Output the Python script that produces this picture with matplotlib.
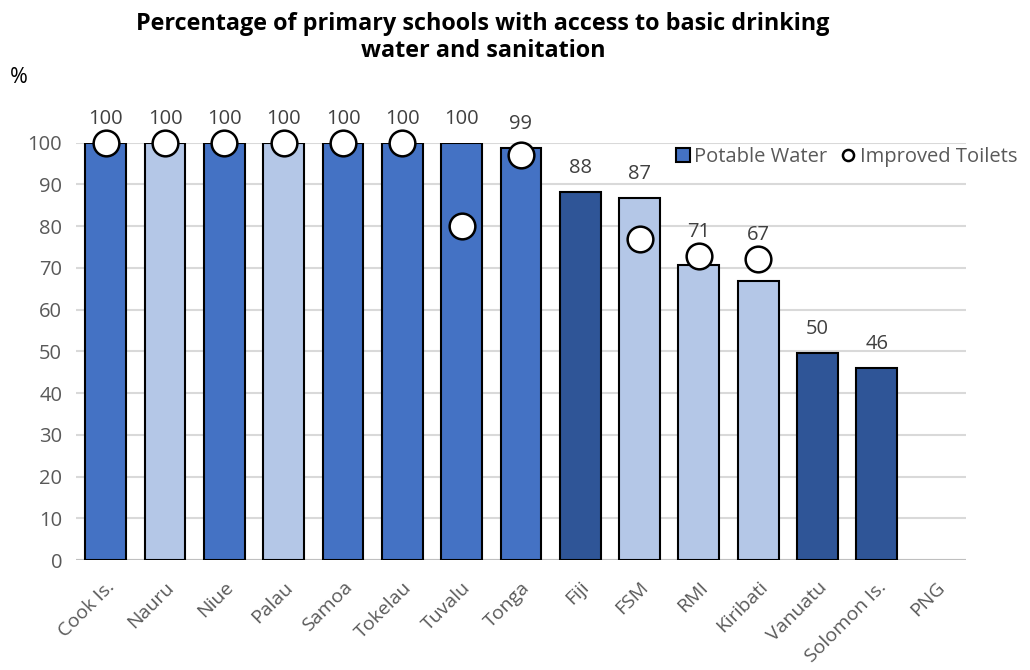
import matplotlib.pyplot as plt
from matplotlib.lines import Line2D
from matplotlib.patches import Patch

plt.rcParams['font.family'] = ['Open Sans', 'DejaVu Sans']

countries = ['Cook Is.', 'Nauru', 'Niue', 'Palau', 'Samoa', 'Tokelau', 'Tuvalu',
             'Tonga', 'Fiji', 'FSM', 'RMI', 'Kiribati', 'Vanuatu', 'Solomon Is.', 'PNG']
water = [100, 100, 100, 100, 100, 100, 100, 98.8, 88.2, 86.8, 70.7, 66.9, 49.6, 46.1, None]
toilets = [100, 100, 100, 100, 100, 100, 80, 97.1, None, 77.0, 72.9, 72.2, None, None, None]
shade = ['mid', 'light', 'mid', 'light', 'mid', 'mid', 'mid',
         'mid', 'dark', 'light', 'light', 'light', 'dark', 'dark', 'dark']

palette = {'mid': '#4472C4', 'light': '#B4C7E7', 'dark': '#2F5597'}
grey = '#595959'

fig = plt.figure(figsize=(10.3, 6.7), dpi=100)
ax = fig.add_axes([0.0738, 0.164, 0.864, 0.623])

x = list(range(len(countries)))
bx = [i for i in x if water[i] is not None]
ax.bar(bx, [water[i] for i in bx], width=0.69,
       color=[palette[shade[i]] for i in bx], edgecolor='black', linewidth=1.5, zorder=2)

tx = [i for i in x if toilets[i] is not None]
ax.plot(tx, [toilets[i] for i in tx], linestyle='none', marker='o', markersize=18.5,
        markerfacecolor='white', markeredgecolor='black', markeredgewidth=1.8,
        zorder=3, clip_on=False)

# value labels sit above whichever mark is higher
for i in bx:
    top = max(water[i], toilets[i] or 0)
    ax.annotate(f'{water[i]:.0f}', (i, top), xytext=(0, 17), textcoords='offset points',
                ha='center', va='center', fontsize=14.5, color='#404040', zorder=4)

ax.set_xlim(-0.5, len(countries) - 0.5)
ax.set_ylim(0, 100)
ax.set_yticks(range(0, 101, 10))
ax.yaxis.grid(True, color='#D9D9D9', linewidth=1.5, zorder=0)
ax.set_axisbelow(True)
for s in ax.spines.values():
    s.set_visible(False)
ax.axhline(0, color='#BFBFBF', linewidth=1.5, zorder=1)

ax.set_xticks(x)
ax.set_xticklabels(countries, rotation=45, ha='right', rotation_mode='anchor',
                   fontsize=14, color=grey)
ax.tick_params(axis='x', length=0, pad=13)
ax.tick_params(axis='y', length=0, pad=10, labelsize=14.5, labelcolor=grey)

fig.text(0.469, 0.944, 'Percentage of primary schools with access to basic drinking\nwater and sanitation',
         ha='center', va='center', fontsize=16.8, fontweight='bold', linespacing=1.2)
fig.text(0.01, 0.884, '%', fontsize=15.5, va='center', ha='left')

handles = [Patch(facecolor='#4472C4', edgecolor='black', linewidth=1.5, label='Potable Water'),
           Line2D([], [], linestyle='none', marker='o', markersize=8, markerfacecolor='white',
                  markeredgecolor='black', markeredgewidth=1.8, label='Improved Toilets')]
fig.legend(handles=handles, loc='center right', bbox_to_anchor=(1.005, 0.766), ncol=2,
           frameon=False, fontsize=14.5, handlelength=0.7, handleheight=0.7,
           handletextpad=0.2, columnspacing=0.7, labelcolor=grey)

fig.savefig('out.png', dpi=100)
